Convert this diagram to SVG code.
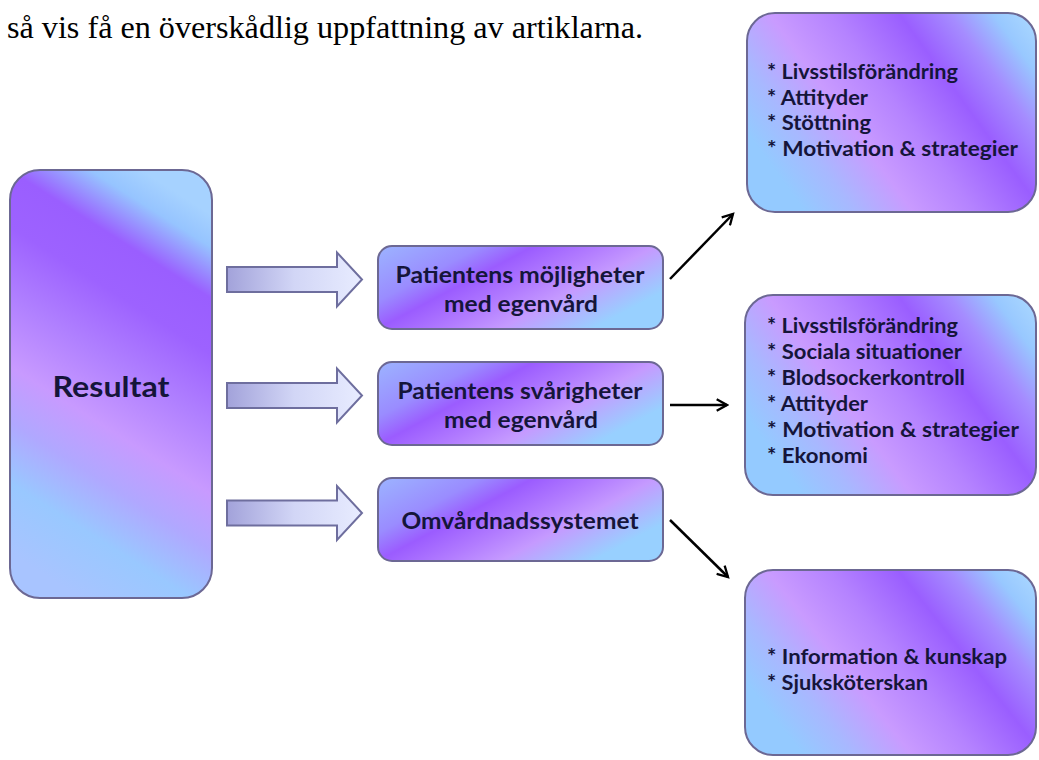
<svg xmlns="http://www.w3.org/2000/svg" width="1039" height="760" viewBox="0 0 1039 760">
<style>
  .box { stroke: #6c6894; stroke-width: 2; }
  .t { font-family: Lato, "Open Sans", "Liberation Sans", sans-serif; font-weight: bold; fill: #15153a; }
  .mid { font-size: 23.5px; text-anchor: middle; }
  .lst { font-size: 21px; }
  .blk { fill: url(#gBlk); stroke: #6e6e9e; stroke-width: 2; }
  .con { stroke: #000; stroke-width: 2.5; fill: none; marker-end: url(#ah); }
</style>
<defs>
  <linearGradient id="gRes" x1="0.65" y1="0" x2="0.35" y2="1">
    <stop offset="0" stop-color="#a6d2ff"/>
    <stop offset="0.07" stop-color="#96c4ff"/>
    <stop offset="0.18" stop-color="#9a5eff"/>
    <stop offset="0.3" stop-color="#9d62ff"/>
    <stop offset="0.45" stop-color="#b080ff"/>
    <stop offset="0.6" stop-color="#c89aff"/>
    <stop offset="0.72" stop-color="#b0a8ff"/>
    <stop offset="0.85" stop-color="#99c8ff"/>
    <stop offset="1" stop-color="#a8c4ff"/>
  </linearGradient>
  <linearGradient id="gMid" x1="0" y1="0" x2="1" y2="0.55">
    <stop offset="0" stop-color="#9cb4ff"/>
    <stop offset="0.28" stop-color="#9a8cff"/>
    <stop offset="0.42" stop-color="#9b5cff"/>
    <stop offset="0.6" stop-color="#b27cff"/>
    <stop offset="0.75" stop-color="#c59aff"/>
    <stop offset="1" stop-color="#98d0ff"/>
  </linearGradient>
  <linearGradient id="gRt" x1="0" y1="0.6" x2="1" y2="0.1">
    <stop offset="0" stop-color="#94caff"/>
    <stop offset="0.14" stop-color="#a8b8ff"/>
    <stop offset="0.3" stop-color="#c99bff"/>
    <stop offset="0.47" stop-color="#b583ff"/>
    <stop offset="0.66" stop-color="#9a5eff"/>
    <stop offset="0.8" stop-color="#a58cff"/>
    <stop offset="0.92" stop-color="#98c8ff"/>
    <stop offset="1" stop-color="#a6d4ff"/>
  </linearGradient>
  <linearGradient id="gBlk" x1="0" y1="0" x2="1" y2="0">
    <stop offset="0" stop-color="#a2a2da"/>
    <stop offset="0.5" stop-color="#d2d6f6"/>
    <stop offset="1" stop-color="#e8ecff"/>
  </linearGradient>
  <path id="blkArrow" d="M227,-12.5 H337 V-27 L362,0 L337,27 V12.5 H227 Z"/>
  <marker id="ah" viewBox="0 0 12 12" refX="10" refY="6" markerWidth="5.5" markerHeight="5.5" orient="auto" markerUnits="strokeWidth">
    <path d="M1,1 L10,6 L1,11" fill="none" stroke="#000" stroke-width="2"/>
  </marker>
</defs>
<rect width="1039" height="760" fill="#fff"/>

<text x="7" y="38" font-family="Liberation Serif, serif" font-size="31" fill="#000" textLength="636" lengthAdjust="spacingAndGlyphs">så vis få en överskådlig uppfattning av artiklarna.</text>

<g id="resultat">
  <rect class="box" x="10" y="170" width="202" height="428" rx="30" fill="url(#gRes)"/>
  <text class="t" x="111" y="397" font-size="29" text-anchor="middle" textLength="117" lengthAdjust="spacingAndGlyphs">Resultat</text>
</g>

<g id="block-arrows">
  <use href="#blkArrow" class="blk" transform="translate(0,279.5)"/>
  <use href="#blkArrow" class="blk" transform="translate(0,395.5)"/>
  <use href="#blkArrow" class="blk" transform="translate(0,513)"/>
</g>

<g id="mojligheter">
  <rect class="box" x="378" y="246" width="285" height="83" rx="14" fill="url(#gMid)"/>
  <text class="t mid" x="520" y="283" textLength="249" lengthAdjust="spacingAndGlyphs">Patientens möjligheter</text>
  <text class="t mid" x="521" y="312" textLength="154" lengthAdjust="spacingAndGlyphs">med egenvård</text>
</g>

<g id="svarigheter">
  <rect class="box" x="378" y="362" width="285" height="83" rx="14" fill="url(#gMid)"/>
  <text class="t mid" x="520" y="399" textLength="245" lengthAdjust="spacingAndGlyphs">Patientens svårigheter</text>
  <text class="t mid" x="521" y="428" textLength="154" lengthAdjust="spacingAndGlyphs">med egenvård</text>
</g>

<g id="omvardnad">
  <rect class="box" x="378" y="478" width="285" height="83" rx="14" fill="url(#gMid)"/>
  <text class="t mid" x="520" y="529" textLength="237" lengthAdjust="spacingAndGlyphs">Omvårdnadssystemet</text>
</g>

<g id="lista-mojligheter">
  <rect class="box" x="747" y="13" width="289" height="199" rx="28" fill="url(#gRt)"/>
  <text class="t lst" x="767" y="79" textLength="191" lengthAdjust="spacingAndGlyphs">* Livsstilsförändring</text>
  <text class="t lst" x="767" y="105" textLength="101" lengthAdjust="spacingAndGlyphs">* Attityder</text>
  <text class="t lst" x="767" y="130" textLength="104" lengthAdjust="spacingAndGlyphs">* Stöttning</text>
  <text class="t lst" x="767" y="156" textLength="251" lengthAdjust="spacingAndGlyphs">* Motivation &amp; strategier</text>
</g>

<g id="lista-svarigheter">
  <rect class="box" x="745" y="295" width="291" height="200" rx="28" fill="url(#gRt)"/>
  <text class="t lst" x="767" y="333" textLength="191" lengthAdjust="spacingAndGlyphs">* Livsstilsförändring</text>
  <text class="t lst" x="767" y="359" textLength="195" lengthAdjust="spacingAndGlyphs">* Sociala situationer</text>
  <text class="t lst" x="767" y="385" textLength="198" lengthAdjust="spacingAndGlyphs">* Blodsockerkontroll</text>
  <text class="t lst" x="767" y="411" textLength="101" lengthAdjust="spacingAndGlyphs">* Attityder</text>
  <text class="t lst" x="767" y="437" textLength="252" lengthAdjust="spacingAndGlyphs">* Motivation &amp; strategier</text>
  <text class="t lst" x="767" y="463" textLength="101" lengthAdjust="spacingAndGlyphs">* Ekonomi</text>
</g>

<g id="lista-omvardnad">
  <rect class="box" x="745" y="570" width="291" height="185" rx="28" fill="url(#gRt)"/>
  <text class="t lst" x="767" y="664" textLength="240" lengthAdjust="spacingAndGlyphs">* Information &amp; kunskap</text>
  <text class="t lst" x="767" y="690" textLength="161" lengthAdjust="spacingAndGlyphs">* Sjuksköterskan</text>
</g>

<g id="connectors">
  <line class="con" x1="670" y1="279" x2="733" y2="214"/>
  <line class="con" x1="670" y1="405" x2="727" y2="405"/>
  <line class="con" x1="670" y1="520" x2="728" y2="577"/>
</g>
</svg>
